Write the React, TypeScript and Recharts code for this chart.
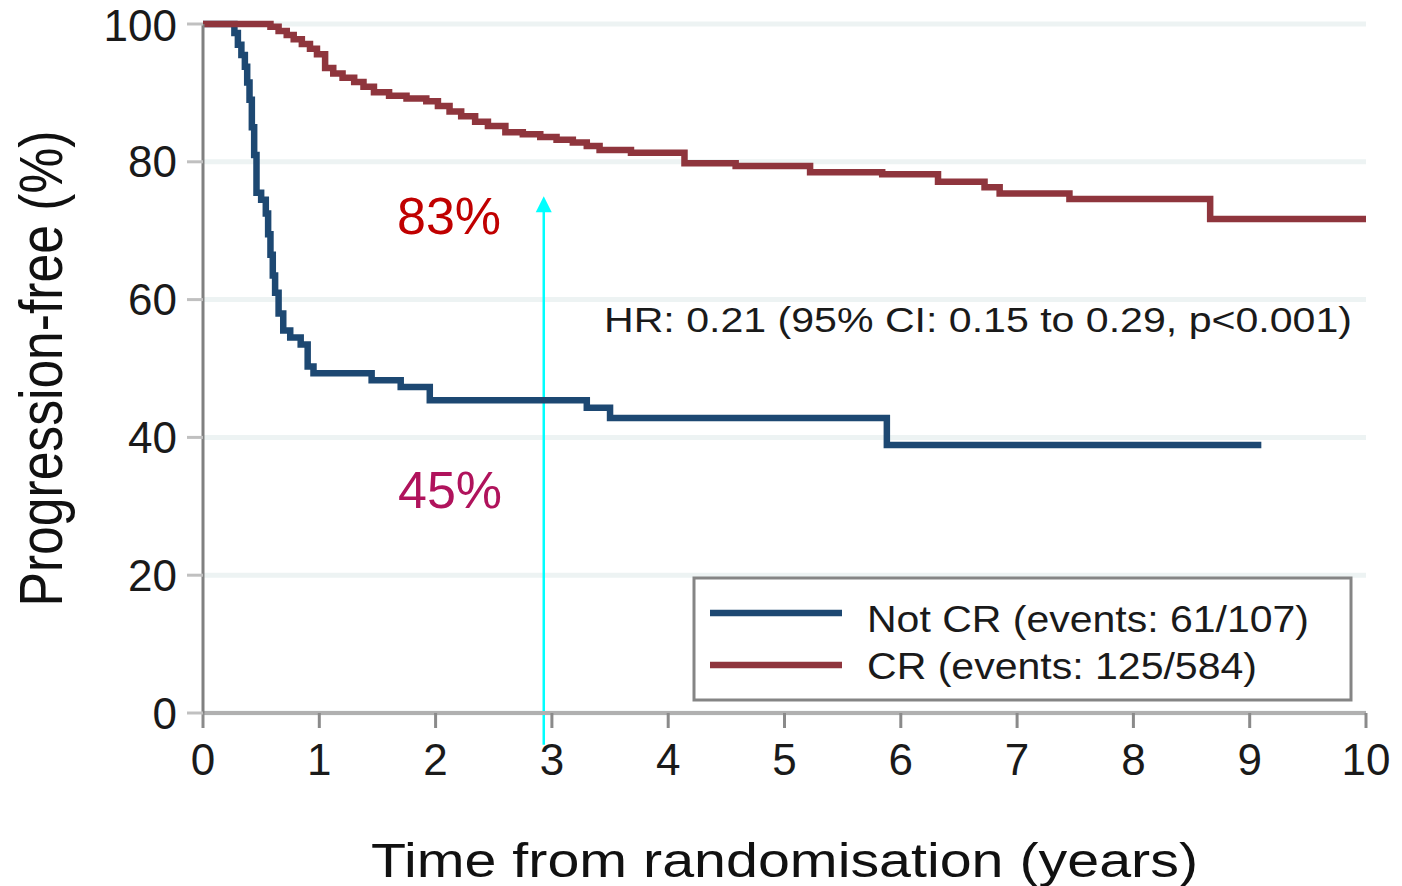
import { CartesianGrid, Line, LineChart, ReferenceLine, XAxis, YAxis } from "recharts";

// Kaplan-Meier steps (years, % progression-free)
const notCrTime = [0, 0.27, 0.3, 0.33, 0.36, 0.38, 0.4, 0.42, 0.44, 0.46, 0.5, 0.54, 0.56, 0.58, 0.6, 0.62, 0.65, 0.69, 0.75, 0.84, 0.9, 0.95, 1.45, 1.7, 1.95, 3.3, 3.5, 5.88, 9.1];
const notCrSurv = [100, 98.7, 97.0, 95.5, 93.8, 91.5, 89.0, 85.0, 81.0, 75.5, 74.5, 72.5, 69.5, 66.5, 63.5, 61.0, 58.0, 55.5, 54.5, 53.5, 50.3, 49.3, 48.3, 47.3, 45.4, 44.3, 42.8, 38.9, 38.9];

const crTime = [0, 0.58, 0.65, 0.72, 0.78, 0.85, 0.92, 0.98, 1.05, 1.12, 1.2, 1.3, 1.38, 1.47, 1.6, 1.75, 1.92, 2.02, 2.12, 2.22, 2.34, 2.45, 2.6, 2.75, 2.9, 3.04, 3.18, 3.3, 3.41, 3.68, 4.14, 4.58, 5.22, 5.84, 6.32, 6.72, 6.85, 7.45, 8.66, 10];
const crSurv = [100, 99.6, 99.0, 98.4, 97.8, 97.1, 96.4, 95.6, 93.6, 92.8, 92.2, 91.6, 90.9, 90.1, 89.6, 89.2, 88.8, 88.1, 87.3, 86.6, 85.8, 85.2, 84.3, 84.0, 83.6, 83.2, 82.8, 82.3, 81.7, 81.3, 79.8, 79.4, 78.5, 78.2, 77.1, 76.3, 75.4, 74.6, 71.7, 71.7];

const xTicks = [0, 1, 2, 3, 4, 5, 6, 7, 8, 9, 10];
const yTicks = [0, 20, 40, 60, 80, 100];

// arrow at 3 years, from below the axis up to the CR level
const arrowX = 2.93;
const arrowFrom = -4.6;
const arrowTo = 75;

const notCrData = notCrTime.map((t, i) => ({ t, s: notCrSurv[i] }));
const crData = crTime.map((t, i) => ({ t, s: crSurv[i] }));

const FONT = '"Liberation Sans", Arial, sans-serif';
const BLUE = "#1d4872";
const RED = "#8f353d";

const XTitle = (props: any) => {
  const { x, y, width } = props.viewBox;
  const len = 827;
  return (
    <text
      x={x + width / 2 - len / 2}
      y={y + 164}
      fontSize={48}
      fontFamily={FONT}
      fill="#111"
      textLength={len}
      lengthAdjust="spacingAndGlyphs"
    >
      Time from randomisation (years)
    </text>
  );
};

const YTitle = (props: any) => {
  const { y, height } = props.viewBox;
  const len = 476;
  return (
    <text
      transform={`translate(62, ${y + height / 2}) rotate(-90)`}
      x={-len / 2}
      y={0}
      fontSize={62}
      fontFamily={FONT}
      fill="#111"
      textLength={len}
      lengthAdjust="spacingAndGlyphs"
    >
      Progression-free (%)
    </text>
  );
};

const Arrow = (props: any) => {
  const { x1, y1, x2, y2 } = props;
  const top = Math.min(y1, y2);
  const bottom = Math.max(y1, y2);
  const x = x1 ?? x2;
  return (
    <g>
      <line x1={x} y1={bottom} x2={x} y2={top + 14} stroke="#00ffff" strokeWidth={2.5} />
      <polygon points={`${x - 8},${top + 16} ${x + 8},${top + 16} ${x},${top}`} fill="#00ffff" />
    </g>
  );
};

export default function App() {
  return (
    <div style={{ position: "fixed", left: 0, top: 0, width: 1402, height: 886, background: "#fff" }}>
      <LineChart width={1402} height={886} margin={{ top: 24, right: 36, left: 0, bottom: 0 }}>
        <CartesianGrid vertical={false} stroke="#edf3f3" strokeWidth={5} />
        <XAxis
          type="number"
          dataKey="t"
          domain={[0, 10]}
          ticks={xTicks}
          height={173}
          tickSize={15}
          tickMargin={16}
          axisLine={{ stroke: "#b0b0b0", strokeWidth: 4 }}
          tickLine={{ stroke: "#8a8a8a", strokeWidth: 3 }}
          tick={{ fontSize: 44, fill: "#1a1a1a", fontFamily: FONT }}
          label={{ content: XTitle }}
        />
        <YAxis
          type="number"
          domain={[0, 100]}
          ticks={yTicks}
          width={203}
          tickSize={16}
          tickMargin={10}
          axisLine={{ stroke: "#808080", strokeWidth: 3 }}
          tickLine={{ stroke: "#c0c0c0", strokeWidth: 3 }}
          tick={{ fontSize: 44, fill: "#1a1a1a", fontFamily: FONT }}
          label={{ content: YTitle }}
        />
        <ReferenceLine
          segment={[
            { x: arrowX, y: arrowFrom },
            { x: arrowX, y: arrowTo },
          ]}
          ifOverflow="visible"
          shape={Arrow}
        />
        <Line
          data={notCrData}
          dataKey="s"
          type="stepAfter"
          stroke={BLUE}
          strokeWidth={6.5}
          dot={false}
          activeDot={false}
          isAnimationActive={false}
        />
        <Line
          data={crData}
          dataKey="s"
          type="stepAfter"
          stroke={RED}
          strokeWidth={6.5}
          dot={false}
          activeDot={false}
          isAnimationActive={false}
        />
      </LineChart>
      <svg
        width={1402}
        height={886}
        style={{ position: "absolute", left: 0, top: 0, pointerEvents: "none" }}
        fontFamily={FONT}
      >
        <text x={397} y={234} fontSize={52} fill="#c00000">83%</text>
        <text x={398} y={508} fontSize={52} fill="#b0135c">45%</text>
        <text x={604} y={332} fontSize={35} fill="#1a1a1a" textLength={748} lengthAdjust="spacingAndGlyphs">
          HR: 0.21 (95% CI: 0.15 to 0.29, p&lt;0.001)
        </text>
        <rect x={694} y={578} width={657} height={122} fill="#fff" stroke="#858585" strokeWidth={3} />
        <line x1={710} y1={613} x2={842} y2={613} stroke={BLUE} strokeWidth={6.5} />
        <line x1={710} y1={665} x2={842} y2={665} stroke={RED} strokeWidth={6.5} />
        <text x={867} y={632} fontSize={37} fill="#1a1a1a" textLength={442} lengthAdjust="spacingAndGlyphs">
          Not CR (events: 61/107)
        </text>
        <text x={867} y={679} fontSize={37} fill="#1a1a1a" textLength={390} lengthAdjust="spacingAndGlyphs">
          CR (events: 125/584)
        </text>
      </svg>
    </div>
  );
}
